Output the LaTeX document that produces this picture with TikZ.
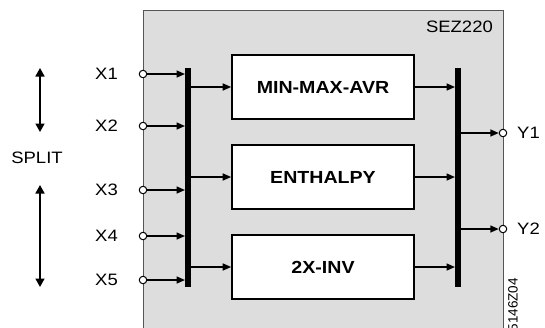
\documentclass[tikz,border=0pt]{standalone}
\usepackage{fontspec}
\setmainfont{Liberation Sans}[FakeStretch=1.12]
\newfontfamily\plainfont{Liberation Sans}
\usetikzlibrary{arrows.meta}
\definecolor{boxgray}{RGB}{221,221,221}
\definecolor{bordergray}{RGB}{85,85,85}
\begin{document}
\begin{tikzpicture}[x=1pt,y=-1pt,
  lbl/.style={font=\fontsize{16.5}{19}\selectfont, inner sep=0pt},
  blk/.style={draw, fill=white, line width=1.6pt, minimum width=182pt, minimum height=64pt, font=\fontsize{17.5}{21}\selectfont\bfseries, inner sep=0pt},
  port/.style={circle, draw, fill=white, line width=1pt, minimum size=7.5pt, inner sep=0pt},
  bar/.style={fill=black, draw=none, minimum width=6pt, minimum height=219pt, inner sep=0pt, anchor=north west},
  sig/.style={line width=1.5pt, -{Triangle[length=8.5pt,width=7pt]}},
  dbl/.style={line width=1.7pt, {Triangle[length=8.5pt,width=9pt]}-{Triangle[length=8.5pt,width=9pt]}}
]
\useasboundingbox (0,0) rectangle (545,327);
\clip (0,0) rectangle (545,327);
\node[draw=bordergray, fill=boxgray, line width=1.1pt, minimum width=360pt, minimum height=340pt, anchor=north west, inner sep=0pt] (sez) at (143,10) {};
\node[lbl, anchor=north east] (title) at (493,21) {SEZ220};

% bars
\node[bar] (lb) at (185,68) {};
\node[bar] (rb) at (455,68) {};

% blocks
\node[blk] (b1) at (323,87) {MIN-MAX-AVR};
\node[blk] (b2) at (323,177) {ENTHALPY};
\node[blk] (b3) at (323,267) {2X-INV};

% inputs
\foreach \i/\y in {1/74,2/126,3/190,4/236,5/280}{
  \node[port] (x\i) at (143,\y) {};
  \node[lbl, anchor=east] (lx\i) at (118,\y) {X\i};
  \draw[sig] (x\i.east) -- (x\i.east -| lb.west);
}

% bar to blocks, blocks to bar
\foreach \b in {b1,b2,b3}{
  \draw[sig] (lb.east |- \b.west) -- (\b.west);
  \draw[sig] (\b.east) -- (\b.east -| rb.west);
}

% outputs
\node[port] (y1) at (503,133) {};
\node[port] (y2) at (503,229) {};
\node[lbl, anchor=west] (ly1) at (517,133) {Y1};
\node[lbl, anchor=west] (ly2) at (517,229) {Y2};
\draw[sig] (rb.east |- y1) -- (y1.west);
\draw[sig] (rb.east |- y2) -- (y2.west);

% split
\node[lbl] (split) at (37,158) {SPLIT};
\coordinate (s1a) at (40,68);
\coordinate (s1b) at (40,132);
\coordinate (s2a) at (40,185);
\coordinate (s2b) at (40,287);
\draw[dbl] (s1a) -- (s1b);
\draw[dbl] (s2a) -- (s2b);

% code
\node[font=\plainfont\fontsize{13.5}{16}\selectfont, rotate=90, anchor=east, inner sep=0pt] (code) at (513,278) {5146Z04};
\end{tikzpicture}
\end{document}
